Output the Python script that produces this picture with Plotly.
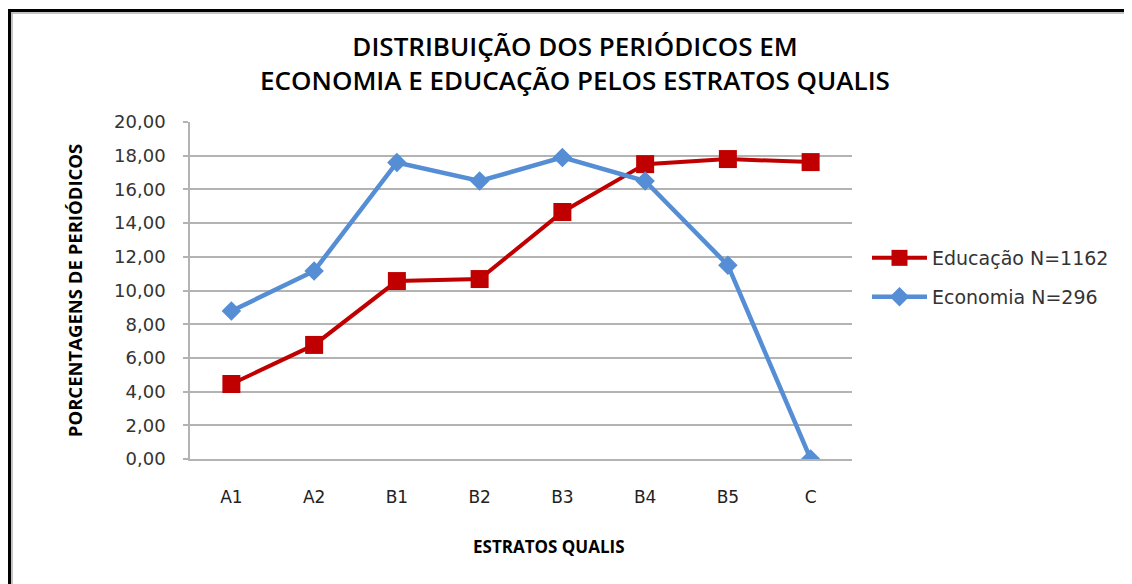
import plotly.graph_objects as go

categories = ["A1", "A2", "B1", "B2", "B3", "B4", "B5", "C"]
educacao = [4.45, 6.77, 10.56, 10.68, 14.66, 17.50, 17.80, 17.62]
economia = [8.78, 11.16, 17.60, 16.50, 17.90, 16.50, 11.50, 0.00]
y_ticks = [0, 2, 4, 6, 8, 10, 12, 14, 16, 18, 20]

W, H = 1132, 584
OFF = 8  # page body margin
# plot area in screen pixels
L, R, T, B = 190, 852, 122, 459


def px(x):
    return (x - L) / (R - L)


def py(y):
    return (B - y) / (B - T)


fig = go.Figure()
fig.add_trace(go.Scatter(
    x=categories, y=educacao, mode="lines+markers", name="Educação N=1162",
    line=dict(color="#C00000", width=4),
    marker=dict(symbol="square", size=18, color="#C00000"),
    legend="legend2",
))
fig.add_trace(go.Scatter(
    x=categories, y=economia, mode="lines+markers", name="Economia N=296",
    line=dict(color="#558ED5", width=4.5),
    marker=dict(symbol="diamond", size=15, color="#558ED5"),
    legend="legend3",
))

shapes = [
    dict(type="line", xref="paper", yref="paper", x0=px(9), x1=px(W + 20), y0=py(10.5), y1=py(10.5),
         line=dict(color="black", width=3)),
    dict(type="line", xref="paper", yref="paper", x0=px(11), x1=px(W + 20), y0=py(13), y1=py(13),
         line=dict(color="#b0b0b0", width=1.5)),
    dict(type="line", xref="paper", yref="paper", x0=px(9.5), x1=px(9.5), y0=py(9), y1=py(H + 20),
         line=dict(color="black", width=3)),
    dict(type="line", xref="paper", yref="paper", x0=px(12), x1=px(12), y0=py(12), y1=py(H + 20),
         line=dict(color="#b0b0b0", width=1.5)),
]

annotations = [
    dict(text="ESTRATOS QUALIS", xref="paper", yref="paper", x=px(549), y=py(546),
         xanchor="center", yanchor="middle", showarrow=False,
         font=dict(family="Open Sans", size=17, color="black", weight="bold")),
]

leg_common = dict(
    xref="paper", yref="paper", xanchor="left", yanchor="middle",
    font=dict(family="DejaVu Sans", size=19, color="#333333"),
    bgcolor="rgba(0,0,0,0)", itemwidth=55,
)

fig.update_layout(
    width=W, height=H,
    margin=dict(l=L - OFF, r=W - (R - OFF), t=T - OFF, b=H - (B - OFF), pad=0),
    paper_bgcolor="white", plot_bgcolor="white",
    separators=", ",
    showlegend=True,
    title=dict(
        text="DISTRIBUIÇÃO DOS PERIÓDICOS EM<br>ECONOMIA E EDUCAÇÃO PELOS ESTRATOS QUALIS",
        x=(575 - OFF) / W, xanchor="center", y=1 - 48 / H, yanchor="top", yref="container",
        font=dict(family="Open Sans", size=26, color="black", weight=600),
    ),
    xaxis=dict(
        type="category", categoryorder="array", categoryarray=categories,
        range=[-0.5, 7.5], showgrid=False, showline=True, linecolor="#b3b3b3", linewidth=1.5,
        ticks="", ticklabelstandoff=22, tickfont=dict(family="DejaVu Sans", size=17, color="#222222"),
        fixedrange=True, zeroline=False,
    ),
    yaxis=dict(
        range=[0, 20], tickvals=y_ticks, tickformat=".2f",
        showgrid=True, gridcolor="#b3b3b3", gridwidth=1.5,
        showline=True, linecolor="#b3b3b3", linewidth=1.5,
        ticks="outside", ticklen=5, tickcolor="#b3b3b3", tickwidth=1.5,
        ticklabelstandoff=14,
        tickfont=dict(family="DejaVu Sans", size=18, color="#333333"),
        title=dict(text="PORCENTAGENS DE PERIÓDICOS", standoff=27,
                   font=dict(family="Open Sans", size=18.5, color="black", weight="bold")),
        zeroline=False, fixedrange=True,
    ),
    legend2=dict(x=px(867), y=py(258), **leg_common),
    legend3=dict(x=px(867), y=py(297), **leg_common),
    annotations=annotations,
    shapes=shapes,
)

fig.write_html("out.html")
